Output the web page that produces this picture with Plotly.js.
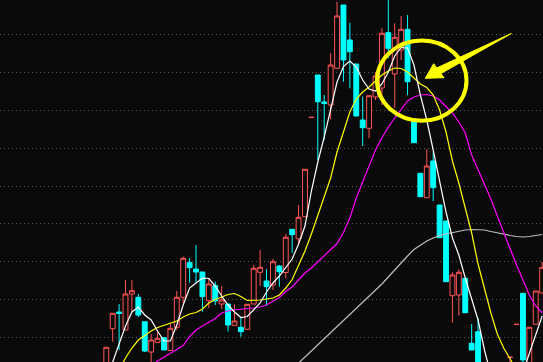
<!DOCTYPE html>
<html>
<head>
<meta charset="utf-8">
<script src="https://cdn.plot.ly/plotly-3.0.1.min.js"></script>
<style>
  html, body { margin: 0; padding: 0; background: #0a0a0a; }
  #chart { width: 543px; height: 362px; }
</style>
</head>
<body>
<div id="chart"></div>
<script>
// Daily candles (price units)
const open  = [7.50,12.13,13.80,12.00,15.60,15.27,12.83,9.80,10.77,11.23,9.95,12.27,15.27,18.73,18.10,17.80,14.93,16.43,14.60,14.60,12.47,12.27,12.07,14.60,17.77,16.90,16.50,18.40,17.75,22.07,21.12,23.33,33.25,37.50,34.80,34.50,38.17,44.50,41.00,38.60,33.00,32.17,35.30,36.20,41.73,37.60,40.00,42.07,32.83,27.67,25.23,28.90,24.50,22.90,15.43,15.50,17.17,10.67,11.83,7.00,5.00,4.00,5.20,9.25,12.55,15.67,7.80,12.57,15.70];
const high  = [10.27,13.67,14.60,17.00,17.00,15.60,12.83,11.60,12.00,11.30,12.60,15.90,19.33,19.20,20.50,17.80,17.20,16.83,16.40,14.60,14.57,13.30,14.57,18.50,20.00,18.07,19.10,18.50,21.60,22.07,24.50,28.07,33.30,37.50,35.50,39.67,44.83,44.50,42.73,38.60,35.33,35.43,37.80,42.17,45.00,42.67,43.40,43.50,32.83,27.67,30.07,29.83,24.50,22.90,17.77,18.07,17.17,12.60,13.17,7.80,5.80,5.50,7.00,9.28,12.57,15.67,12.27,15.90,18.80];
const low   = [7.00,10.83,10.00,12.00,13.80,13.30,9.80,8.80,10.77,10.00,9.90,12.00,14.70,16.73,16.73,13.83,14.20,14.50,14.10,11.83,12.47,11.33,12.07,14.60,16.40,14.40,16.00,16.33,17.17,19.70,20.50,23.30,33.20,29.00,31.00,33.07,38.17,36.83,36.17,33.40,30.40,31.17,35.00,34.50,39.20,34.20,39.00,35.50,30.73,25.33,25.23,24.90,21.23,16.83,12.73,13.43,13.73,10.00,6.50,4.50,3.20,3.50,4.80,8.20,12.55,8.50,7.50,12.57,15.70];
const close = [10.27,13.67,13.65,15.60,15.93,13.50,9.90,11.00,11.17,10.00,12.17,15.27,19.17,18.23,17.80,15.33,16.60,14.90,15.00,12.50,12.90,11.83,14.57,18.17,18.27,16.33,18.83,17.83,21.27,21.53,23.27,28.07,33.27,34.83,34.65,38.50,43.40,39.00,39.83,33.40,32.23,35.43,37.40,41.67,40.17,41.27,42.07,36.83,30.73,25.33,28.40,26.23,21.23,16.83,17.50,17.77,13.73,10.00,7.00,5.00,4.00,5.20,6.50,9.28,12.57,9.00,12.27,15.90,18.27];

// Moving averages as drawn
const ma5  = [7.00,8.80,10.50,12.40,13.80,14.30,13.50,13.00,11.90,10.90,10.90,12.50,14.50,16.20,16.70,17.20,17.15,16.40,15.40,14.50,13.80,13.25,13.35,14.00,14.70,15.80,16.70,17.40,18.20,19.10,20.60,22.40,25.90,28.80,31.30,34.10,36.80,38.35,38.90,38.30,37.00,36.10,35.90,36.60,37.80,39.40,40.25,40.20,38.50,35.50,33.00,30.00,26.80,23.80,21.20,19.50,17.20,15.00,13.00,10.00,7.50,6.00,5.50,5.50,6.50,7.80,9.60,11.60,13.40];
const ma10 = [5.50,6.50,8.00,9.20,10.20,11.00,11.45,11.90,12.25,12.45,12.65,12.90,13.30,13.60,13.75,14.10,14.70,15.05,15.30,15.55,15.65,15.35,14.95,14.95,15.00,15.10,15.20,15.50,16.20,17.05,18.40,19.90,21.60,23.50,25.20,27.20,29.80,31.90,33.80,35.10,35.80,36.30,36.90,37.50,37.90,38.20,38.15,37.80,37.20,36.60,36.25,35.50,34.00,31.80,28.90,26.70,24.20,21.70,18.60,16.00,13.70,11.60,10.20,9.10,8.00,7.20,6.50,6.00,5.50];
const ma20 = [5.00,5.50,6.00,6.50,7.00,7.50,8.00,8.40,8.90,9.30,9.70,10.05,10.45,11.35,12.00,12.40,12.80,13.15,13.70,13.90,14.00,14.10,14.15,14.20,14.30,14.50,14.85,15.25,15.85,16.30,17.00,17.70,18.20,18.80,19.40,19.95,20.65,21.75,23.20,25.20,26.80,28.30,30.00,31.20,32.30,33.20,34.10,34.90,35.30,35.50,35.55,35.40,35.00,34.30,33.70,32.80,31.70,29.50,28.00,26.50,25.10,23.40,21.70,20.10,18.50,17.00,15.50,14.40,13.70];
const ma60 = [null,null,null,null,null,null,null,null,null,null,null,null,null,null,null,null,null,null,null,null,null,null,null,null,null,null,null,6.70,7.40,8.00,8.70,9.30,9.90,10.50,11.15,11.75,12.35,13.00,13.60,14.20,14.80,15.40,16.00,16.60,17.30,18.00,18.80,19.40,20.05,20.50,20.90,21.20,21.45,21.60,21.75,21.90,22.00,22.05,22.05,22.00,21.85,21.70,21.55,21.45,21.35,21.30,21.35,21.45,21.55];

const days = Array.from({length: close.length}, (_, i) => i + 1);

const BG = '#0a0a0a';

const traces = [
  {
    type: 'candlestick',
    x: days, open: open, high: high, low: low, close: close,
    line: {width: 1},
    whiskerwidth: 0,
    increasing: {line: {color: '#ff5555', width: 1}, fillcolor: BG},
    decreasing: {line: {color: '#00ffff', width: 1}, fillcolor: '#00ffff'},
    hoverinfo: 'skip', showlegend: false
  },
  {type: 'scatter', mode: 'lines', x: days, y: ma60, line: {color: '#bdbdbd', width: 1.2}, showlegend: false, hoverinfo: 'skip'},
  {type: 'scatter', mode: 'lines', x: days, y: ma20, line: {color: '#ff00ff', width: 1.2}, showlegend: false, hoverinfo: 'skip'},
  {type: 'scatter', mode: 'lines', x: days, y: ma10, line: {color: '#ffff00', width: 1.2}, showlegend: false, hoverinfo: 'skip'},
  {type: 'scatter', mode: 'lines', x: days, y: ma5,  line: {color: '#ffffff', width: 1.2}, showlegend: false, hoverinfo: 'skip'}
];

const layout = {
  width: 543, height: 362,
  margin: {l: 0, r: 0, t: 0, b: 0, pad: 0},
  paper_bgcolor: BG, plot_bgcolor: BG,
  showlegend: false,
  boxgap: 0.2, boxgroupgap: 0.05,
  xaxis: {
    range: [-15.58, 69.13], showgrid: false, zeroline: false,
    showticklabels: false, ticks: '', showline: false,
    rangeslider: {visible: false}, fixedrange: true
  },
  yaxis: {
    range: [8.8, 45], showgrid: true, gridcolor: '#5a5a5a', gridwidth: 1,
    griddash: '1px,3px', tick0: 11.27, dtick: 3.779, zeroline: false,
    showticklabels: false, ticks: '', showline: false, fixedrange: true
  },
  shapes: [
    {type: 'circle', xref: 'paper', yref: 'paper',
     x0: 377/543, x1: 466.5/543, y0: 1 - 120.7/362, y1: 1 - 40.5/362,
     line: {color: '#ffff00', width: 4}, fillcolor: 'rgba(0,0,0,0)', layer: 'above'},
    {type: 'path', xref: 'paper', yref: 'paper',
     path: 'M 0.7832 0.7837 L 0.7987 0.8240 L 0.8044 0.8124 L 0.9416 0.9075 L 0.8122 0.7970 L 0.8177 0.7854 Z',
     fillcolor: '#ffff00', line: {color: '#ffff00', width: 1}, layer: 'above'}
  ]
};

Plotly.newPlot('chart', traces, layout, {staticPlot: true, displayModeBar: false});
</script>
</body>
</html>
